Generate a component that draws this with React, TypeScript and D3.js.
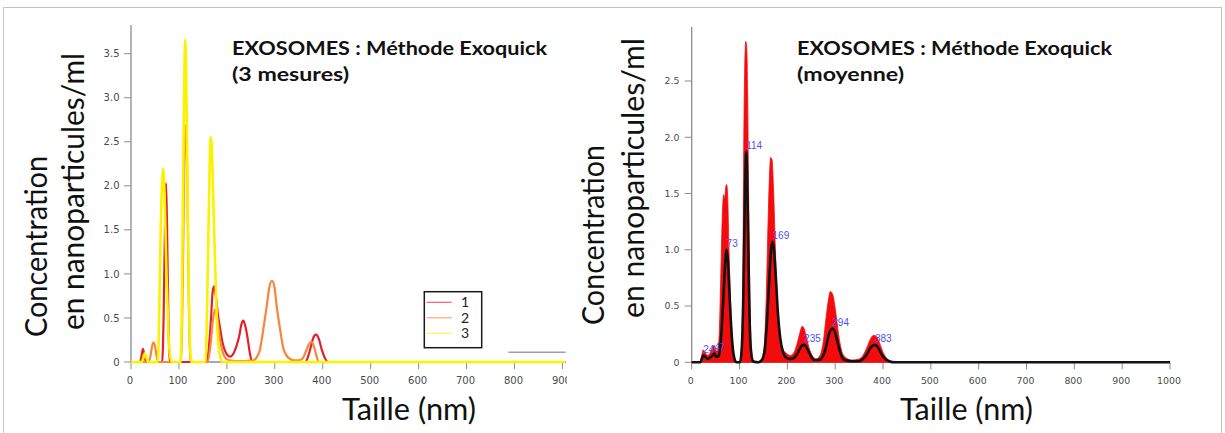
import React from "react";
import * as d3 from "d3";

type Pt = [number, number];

// ---------- Left panel: three measurements (size nm, concentration) ----------
const series1: Pt[] = [
  [0, 0], [19, 0], [22, 0.07], [25, 0.15], [28, 0.07], [32, 0],
  [65, 0], [68, 0.5], [71, 1.6], [73, 2.03], [75, 1.6], [78, 0.5], [81, 0],
  [158, 0], [163, 0.2], [167, 0.5], [170, 0.78], [173, 0.86], [177, 0.75], [181, 0.55],
  [186, 0.38], [191, 0.22], [196, 0.13], [201, 0.08], [207, 0.06], [214, 0.1], [220, 0.18],
  [226, 0.3], [230, 0.42], [234, 0.47], [238, 0.42], [243, 0.28], [248, 0.1], [252, 0.01], [256, 0],
  [363, 0], [368, 0.04], [374, 0.15], [380, 0.27], [386, 0.31], [392, 0.26], [398, 0.14],
  [404, 0.05], [411, 0], [420, 0],
];

const series2: Pt[] = [
  [0, 0], [37, 0], [41, 0.08], [44, 0.18], [47, 0.22], [50, 0.18], [53, 0.08], [57, 0],
  [104, 0], [108, 0.9], [111, 2.2], [114, 2.69], [117, 2.2], [120, 0.9], [124, 0],
  [160, 0], [166, 0.2], [171, 0.48], [176, 0.6], [181, 0.45], [186, 0.25], [192, 0.1],
  [198, 0.04], [205, 0.02], [225, 0.01], [255, 0.02], [262, 0.05], [269, 0.14], [276, 0.37],
  [283, 0.63], [289, 0.86], [294, 0.92], [299, 0.86], [304, 0.63], [311, 0.37], [318, 0.15],
  [328, 0.05], [340, 0.02], [350, 0.02], [356, 0.03], [362, 0.08], [367, 0.15], [372, 0.21],
  [376, 0.23], [380, 0.2], [384, 0.13], [388, 0.05], [392, 0], [420, 0],
];

const series3: Pt[] = [
  [0, 0], [22, 0], [26, 0.05], [29, 0.1], [32, 0.05], [37, 0],
  [56, 0], [59, 0.6], [62, 1.5], [65, 2.05], [67, 2.2], [70, 1.9], [74, 1.0], [78, 0.35], [82, 0.05], [86, 0],
  [103, 0], [106, 0.6], [109, 2.2], [112, 3.5], [113, 3.66], [115, 3.3], [118, 2.0], [121, 0.7], [124, 0.1], [127, 0],
  [155, 0], [158, 0.4], [161, 1.3], [164, 2.2], [166, 2.55], [168, 2.5], [171, 2.0], [175, 1.2],
  [179, 0.5], [184, 0.12], [190, 0], [906, 0],
];

const leftSeriesNames = ["1", "2", "3"];
const leftSeriesColors = ["#e3202c", "#f5873a", "#fbf200"];
const leftYTicks = [0, 0.5, 1.0, 1.5, 2.0, 2.5, 3.0, 3.5];
const leftXTicks = [0, 100, 200, 300, 400, 500, 600, 700, 800, 900];

// ---------- Right panel: average (mean line and upper band) ----------
const meanData: Pt[] = [
  [0, 0], [18, 0], [21, 0.03], [24, 0.06], [28, 0.05], [33, 0.03], [38, 0.04], [43, 0.06],
  [47, 0.08], [51, 0.05], [55, 0.05], [58, 0.08], [62, 0.25], [66, 0.55], [70, 0.88],
  [73, 1.0], [76, 0.88], [80, 0.52], [84, 0.22], [88, 0.06], [93, 0],
  [101, 0], [105, 0.15], [108, 0.6], [111, 1.4], [114, 1.87], [117, 1.4], [120, 0.6], [123, 0.15], [128, 0.01],
  [140, 0], [148, 0.03], [153, 0.12], [158, 0.4], [163, 0.8], [166, 1.0], [169, 1.07], [172, 1.0],
  [176, 0.75], [180, 0.45], [185, 0.22], [191, 0.09], [198, 0.04], [206, 0.03], [214, 0.04],
  [220, 0.07], [226, 0.12], [231, 0.15], [235, 0.155], [239, 0.14], [244, 0.1], [250, 0.05],
  [257, 0.02], [266, 0.02], [274, 0.05], [281, 0.14], [287, 0.25], [294, 0.3], [300, 0.26],
  [306, 0.16], [312, 0.07], [320, 0.02], [335, 0.01], [350, 0.01], [358, 0.03], [366, 0.07],
  [374, 0.13], [383, 0.155], [390, 0.13], [397, 0.07], [405, 0.03], [413, 0.01], [425, 0], [1000, 0],
];

const upperData: Pt[] = [
  [0, 0], [18, 0], [21, 0.06], [24, 0.11], [28, 0.09], [33, 0.06], [38, 0.08], [43, 0.13],
  [47, 0.15], [51, 0.1], [55, 0.12], [58, 0.3], [61, 0.8], [64, 1.3], [67, 1.49], [69, 1.45],
  [71, 1.55], [73, 1.58], [75, 1.5], [78, 1.0], [82, 0.45], [86, 0.15], [91, 0.02],
  [100, 0], [104, 0.1], [107, 0.8], [109, 2.0], [111, 2.65], [113, 2.85], [115, 2.8], [117, 2.4],
  [119, 1.5], [122, 0.5], [126, 0.08], [132, 0],
  [145, 0.02], [151, 0.12], [156, 0.6], [160, 1.3], [163, 1.7], [165, 1.82], [168, 1.8],
  [171, 1.55], [175, 1.0], [179, 0.55], [184, 0.25], [190, 0.12], [198, 0.08], [206, 0.06],
  [214, 0.09], [220, 0.16], [226, 0.26], [231, 0.32], [235, 0.3], [240, 0.22], [246, 0.12],
  [252, 0.06], [260, 0.03], [268, 0.06], [275, 0.18], [281, 0.4], [286, 0.56], [290, 0.63],
  [295, 0.6], [301, 0.45], [307, 0.25], [313, 0.11], [320, 0.05], [335, 0.02], [350, 0.03],
  [358, 0.06], [366, 0.13], [373, 0.2], [380, 0.24], [386, 0.23], [393, 0.17], [400, 0.09],
  [407, 0.04], [414, 0.01], [425, 0], [1000, 0],
];

const peakSizes = [24, 47, 73, 114, 169, 235, 294, 383];
const rightYTicks = [0, 0.5, 1.0, 1.5, 2.0, 2.5];
const rightXTicks = [0, 100, 200, 300, 400, 500, 600, 700, 800, 900, 1000];

const BIG_FONT = "Lato, 'Open Sans', sans-serif";
const TICK_FONT = "'DejaVu Sans', Verdana, sans-serif";

function fmt(v: number) {
  return v === 0 ? "0" : v.toFixed(1);
}

export default function App() {
  const W = 1225;
  const H = 433;

  // Left scales
  const xL = d3.scaleLinear().domain([0, 906]).range([131, 565.3]);
  const yL = d3.scaleLinear().domain([0, 3.5]).range([362, 53.7]);
  // Right scales
  const xR = d3.scaleLinear().domain([0, 1000]).range([691.7, 1170]);
  const yR = d3.scaleLinear().domain([0, 2.5]).range([362.3, 81]);

  const lineL = d3
    .line<Pt>()
    .x((d) => xL(d[0]))
    .y((d) => yL(d[1]))
    .curve(d3.curveMonotoneX);

  const lineR = d3
    .line<Pt>()
    .x((d) => xR(d[0]))
    .y((d) => yR(d[1]))
    .curve(d3.curveMonotoneX);

  const areaR = d3
    .area<Pt>()
    .x((d) => xR(d[0]))
    .y0(yR(0))
    .y1((d) => yR(d[1]))
    .curve(d3.curveMonotoneX);

  const leftSeries = [series1, series2, series3];
  const axisColor = "#8c8c8c";
  const tickText = "#4a4a4a";

  const meanAt = (s: number) => {
    const p = meanData.find((d) => d[0] === s);
    return p ? p[1] : 0;
  };

  return (
    <svg
      width={W}
      height={H}
      viewBox={`0 0 ${W} ${H}`}
      style={{ position: "absolute", left: 0, top: 0, background: "#fff" }}
    >
      <defs>
        <clipPath id="leftClip">
          <rect x={0} y={0} width={567} height={H} />
        </clipPath>
      </defs>
      <rect x={0} y={0} width={W} height={H} fill="#fff" />
      <rect x={3.5} y={7.5} width={1218} height={440} fill="none" stroke="#c4c4c4" strokeWidth={1} />

      {/* ================= LEFT PANEL ================= */}
      <g clipPath="url(#leftClip)">
        {/* axes */}
        <line x1={131} x2={131} y1={25} y2={yL(0)} stroke={axisColor} strokeWidth={1.3} />
        <line x1={131} x2={566} y1={yL(0)} y2={yL(0)} stroke={axisColor} strokeWidth={1.3} />
        {leftYTicks.map((t) => (
          <g key={"ly" + t}>
            <line x1={124} x2={131} y1={yL(t)} y2={yL(t)} stroke={axisColor} strokeWidth={1} />
            <text
              x={119.5}
              y={yL(t) + 3.6}
              textAnchor="end"
              fontFamily={TICK_FONT}
              fontSize={10}
              fill={tickText}
            >
              {fmt(t)}
            </text>
          </g>
        ))}
        {leftXTicks.map((t) => (
          <g key={"lx" + t}>
            <line x1={xL(t)} x2={xL(t)} y1={yL(0)} y2={yL(0) + 7} stroke={axisColor} strokeWidth={1} />
            <text
              x={xL(t) - 1}
              y={384}
              textAnchor="middle"
              fontFamily={TICK_FONT}
              fontSize={10}
              fill={tickText}
            >
              {t}
            </text>
          </g>
        ))}

        {/* curves */}
        {leftSeries.map((s, i) => (
          <path
            key={"ls" + i}
            d={lineL(s) || ""}
            fill="none"
            stroke={leftSeriesColors[i]}
            strokeWidth={i === 2 ? 2.6 : 2.2}
            strokeLinejoin="round"
          />
        ))}

        {/* legend */}
        <rect x={424.3} y={291.7} width={57.4} height={56} fill="#fff" stroke="#1a1a1a" strokeWidth={1.5} />
        {leftSeriesNames.map((n, i) => (
          <g key={"lg" + n}>
            <line
              x1={426.7}
              x2={451.7}
              y1={302.3 + i * 15.5}
              y2={302.3 + i * 15.5}
              stroke={leftSeriesColors[i]}
              strokeOpacity={0.7}
              strokeWidth={1.2}
            />
            <text x={461} y={307.3 + i * 15.5} fontFamily={BIG_FONT} fontSize={14} fill="#222">
              {n}
            </text>
          </g>
        ))}
        <line x1={508.3} x2={565.7} y1={352.3} y2={352.3} stroke="#a0a0a0" strokeWidth={1.5} />
      </g>

      {/* left titles */}
      <text x={232} y={55} fontFamily={BIG_FONT} fontWeight={700} fontSize={19} fill="#111" textLength={315} lengthAdjust="spacingAndGlyphs">
        EXOSOMES : Méthode Exoquick
      </text>
      <text x={232} y={81} fontFamily={BIG_FONT} fontWeight={700} fontSize={19} fill="#111" textLength={117} lengthAdjust="spacingAndGlyphs">
        (3 mesures)
      </text>
      <text transform="translate(47,337) rotate(-90)" fontFamily={BIG_FONT} fontSize={31} fill="#111" textLength={181} lengthAdjust="spacingAndGlyphs">
        Concentration
      </text>
      <text transform="translate(84,330) rotate(-90)" fontFamily={BIG_FONT} fontSize={31} fill="#111" textLength={277} lengthAdjust="spacingAndGlyphs">
        en nanoparticules/ml
      </text>
      <text x={342} y={420} fontFamily={BIG_FONT} fontSize={30} fill="#111" textLength={134} lengthAdjust="spacingAndGlyphs">
        Taille (nm)
      </text>

      {/* ================= RIGHT PANEL ================= */}
      <line x1={xR(0)} x2={xR(0)} y1={27} y2={yR(0)} stroke={axisColor} strokeWidth={1.3} />
      <line x1={xR(0)} x2={xR(1000)} y1={yR(0)} y2={yR(0)} stroke={axisColor} strokeWidth={1.3} />
      {rightYTicks.map((t) => (
        <g key={"ry" + t}>
          <line x1={xR(0) - 7} x2={xR(0)} y1={yR(t)} y2={yR(t)} stroke={axisColor} strokeWidth={1} />
          <text
            x={679.5}
            y={yR(t) + 3.4}
            textAnchor="end"
            fontFamily={TICK_FONT}
            fontSize={9.4}
            fill={tickText}
          >
            {fmt(t)}
          </text>
        </g>
      ))}
      {rightXTicks.map((t) => (
        <g key={"rx" + t}>
          <line x1={xR(t)} x2={xR(t)} y1={yR(0)} y2={yR(0) + 7} stroke={axisColor} strokeWidth={1} />
          <text
            x={xR(t) - 1}
            y={384}
            textAnchor="middle"
            fontFamily={TICK_FONT}
            fontSize={9.4}
            fill={tickText}
          >
            {t}
          </text>
        </g>
      ))}

      <path d={areaR(upperData) || ""} fill="#f40c0c" stroke="#f40c0c" strokeWidth={0.8} />
      <path d={lineR(meanData) || ""} fill="none" stroke="#121212" strokeWidth={2.6} strokeLinejoin="round" />

      {peakSizes.map((p) => (
        <text
          key={"pk" + p}
          x={xR(p)}
          y={yR(meanAt(p)) - 2.5}
          fontFamily="'Liberation Sans', Arial, sans-serif"
          fontSize={10}
          fill="#4f4ff5"
        >
          {p}
        </text>
      ))}

      <text x={797} y={55} fontFamily={BIG_FONT} fontWeight={700} fontSize={19} fill="#111" textLength={315} lengthAdjust="spacingAndGlyphs">
        EXOSOMES : Méthode Exoquick
      </text>
      <text x={797} y={81} fontFamily={BIG_FONT} fontWeight={700} fontSize={19} fill="#111" textLength={107} lengthAdjust="spacingAndGlyphs">
        (moyenne)
      </text>
      <text transform="translate(604,325) rotate(-90)" fontFamily={BIG_FONT} fontSize={31} fill="#111" textLength={180} lengthAdjust="spacingAndGlyphs">
        Concentration
      </text>
      <text transform="translate(644,318) rotate(-90)" fontFamily={BIG_FONT} fontSize={31} fill="#111" textLength={280} lengthAdjust="spacingAndGlyphs">
        en nanoparticules/ml
      </text>
      <text x={900} y={420} fontFamily={BIG_FONT} fontSize={30} fill="#111" textLength={133} lengthAdjust="spacingAndGlyphs">
        Taille (nm)
      </text>
    </svg>
  );
}
